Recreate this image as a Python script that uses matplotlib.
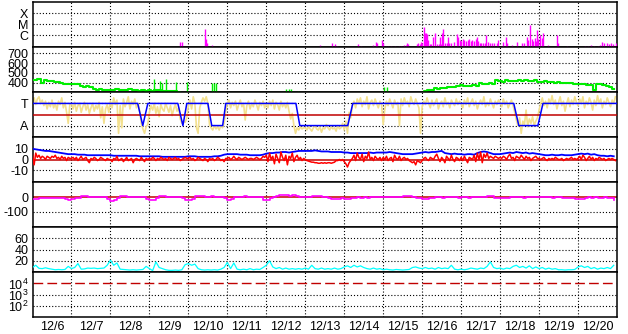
import matplotlib
matplotlib.use("Agg")
import matplotlib.pyplot as plt
from matplotlib.ticker import NullLocator
import numpy as np

plt.rcParams['font.family'] = ['Liberation Sans', 'DejaVu Sans']
plt.rcParams['mathtext.fontset'] = 'custom'
plt.rcParams['mathtext.rm'] = 'Liberation Sans'
plt.rcParams['mathtext.it'] = 'Liberation Sans'

day_labels = ['12/6', '12/7', '12/8', '12/9', '12/10', '12/11', '12/12', '12/13',
              '12/14', '12/15', '12/16', '12/17', '12/18', '12/19', '12/20']

# x-ray flux (hours after 12/6 00UT, W/m2)
xray_hour = [91.0, 91.8, 106.0, 106.6, 107.3, 110.4, 177.0, 184.4, 186.2, 187.4,
             200.4, 202.2, 209.6, 211.5, 212.1, 215.2, 215.8, 217.5, 219.0, 221.0,
             223.0, 226.0, 227.2, 228.7, 229.9, 230.6, 231.2, 236.7, 237.5, 238.6,
             239.2, 239.8, 241.1, 241.7, 242.4, 243.0, 243.6, 244.8, 245.6, 246.6,
             247.8, 249.0, 250.2, 250.9, 251.5, 252.2, 252.8, 254.0, 255.0, 255.8,
             256.8, 258.0, 259.5, 261.4, 262.0, 263.2, 264.0, 265.0, 266.0, 267.0,
             268.0, 269.0, 270.0, 271.0, 272.0, 273.0, 273.7, 274.5, 275.5, 276.5,
             277.5, 278.5, 279.3, 280.5, 281.7, 283.0, 284.5, 285.8, 286.6, 289.7,
             291.6, 292.2, 295.3, 298.4, 301.5, 303.0, 304.5, 305.0, 306.4, 307.6,
             308.4, 309.2, 310.0, 310.7, 311.4, 312.5, 313.7, 314.4, 317.5, 323.0,
             323.6, 329.2, 340.2, 342.0, 344.0, 346.0, 348.0, 349.5, 350.7, 352.0,
             353.8, 355.0, 356.3, 357.5, 359.4]
xray_flux = [2.5e-7, 2.2e-7, 3.5e-6, 4e-7, 2e-7, 1.2e-7, 1.2e-7, 2e-7, 1.5e-7, 1e-7,
             1.5e-7, 1e-7, 1.2e-7, 2.5e-7, 1.8e-7, 3.5e-7, 2e-7, 1e-7, 1e-7, 1e-7,
             1e-7, 1e-7, 1e-7, 1.2e-7, 1.2e-7, 1.8e-7, 1.5e-7, 1.4e-7, 1.8e-7, 1.4e-7,
             2.5e-7, 2e-7, 5e-6, 1.5e-6, 1.5e-6, 1.2e-6, 3.5e-7, 1.5e-7, 1.5e-7, 7e-7,
             1.4e-6, 1.6e-7, 1.6e-7, 7e-7, 1.6e-7, 1.6e-6, 3.3e-6, 2e-7, 2e-7, 6e-7,
             2e-7, 1.8e-7, 2.2e-7, 1.2e-6, 6e-7, 3.5e-7, 3e-7, 4e-7, 3.5e-7, 3e-7,
             3.5e-7, 4e-7, 3e-7, 3.5e-7, 3e-7, 4e-7, 7e-7, 3e-7, 1.8e-7, 1.8e-7,
             1.8e-7, 1.8e-7, 1e-6, 2.5e-7, 1.8e-7, 1.8e-7, 1.8e-7, 1.8e-7, 3.5e-7, 2.5e-7,
             6e-7, 2e-7, 1.2e-7, 2.5e-7, 1.8e-7, 1.8e-7, 7e-7, 3.5e-7, 8e-6, 4e-7,
             3e-7, 5e-7, 3e-7, 2.8e-6, 4e-7, 1e-6, 5e-7, 1.4e-6, 1.2e-7, 1e-6,
             1.8e-7, 1e-7, 1.1e-7, 1.1e-7, 1.2e-7, 1.1e-7, 1.1e-7, 1.2e-7, 2.5e-7, 1.8e-7,
             1.8e-7, 1.6e-7, 1.8e-7, 1.6e-7, 2e-7]

# solar wind speed, 2-hourly (km/s); values under 305 run off the bottom
wind_speed = [
    425, 430, 438, 395, 425, 420, 415, 410, 412, 395, 388, 387,
    388, 385, 385, 362, 360, 366, 352, 340, 330, 335, 325, 330,
    330, 328, 340, 325, 330, 322, 335, 328, 325, 320, 326, 318,
    322, 318, 325, 330, 315, 320, 318, 312, 320, 300, 290, 290,
    290, 290, 290, 290, 290, 290, 290, 290, 290, 290, 290, 290,
    290, 290, 290, 290, 290, 290, 290, 290, 290, 290, 290, 290,
    290, 290, 290, 290, 290, 290, 290, 290, 290, 290, 290, 290,
    290, 290, 290, 290, 290, 290, 290, 290, 290, 290, 290, 290,
    290, 290, 290, 290, 290, 290, 290, 290, 290, 290, 290, 290,
    290, 290, 290, 290, 290, 290, 290, 290, 290, 290, 290, 290,
    290, 315, 327, 325, 344, 340, 346, 350, 352, 355, 360, 366,
    377, 366, 368, 370, 372, 368, 394, 390, 385, 392, 388, 427,
    420, 412, 425, 418, 422, 415, 428, 420, 424, 418, 422, 426,
    412, 408, 415, 405, 410, 400, 403, 398, 402, 395, 392, 388,
    390, 385, 382, 380, 378, 327, 385, 384, 380, 366, 352, 338]

# isolated speed readings during the off-scale interval
wind_spike_day = [3.11, 3.28, 3.32, 3.42, 3.67, 3.97, 4.61, 4.65, 4.71,
                  6.51, 6.58, 6.63, 6.81, 9.02, 9.10]
wind_spike_kms = [438, 420, 394, 435, 404, 404, 394, 394, 394,
                  334, 334, 334, 320, 354, 354]

# IMF sector (T = +1, A = -1)
sector_day = [0, 2.70, 2.83, 2.96, 3.73, 3.86, 3.96, 4.50, 4.60, 4.88, 4.96,
              6.76, 6.86, 8.09, 8.22, 12.35, 12.48, 12.97, 13.10, 15]
sector = [1, 1, -1, 1, 1, -1, 1, 1, -1, -1, 1, 1, -1, -1, 1, 1, -1, -1, 1, 1]

# IMF angle, hourly, in sector units
imf_angle = [
    1.2, 1.5, 0.9, 1.4, 1.6, 1.0, 1.3, 0.8, 1.2, 0.5, 1.1, 0.7, 1.3, 0.6, 1.0, 0.4, 1.2, 0.9, 1.5, 0.6, 1.1, 0.2, -0.8, 0.9,
    1.0, 0.5, 1.1, 0.3, 0.8, 1.0, 0.2, 0.7, 1.1, 0.4, 0.9, 0.1, 0.6, 1.0, 0.3, 0.8, 0.5, 1.1, -0.3, 0.7, -0.8, 0.5, 0.9, 0.2,
    1.2, 0.6, 1.5, 0.9, 1.3, -1.7, 0.8, -1.2, 1.4, 0.7, 1.1, 1.6, 0.5, 1.2, 0.9, 1.4, 0.6, 1.0, 0.3, -0.8, -1.3, -1.7, -1.1, -0.9,
    0.2, 0.8, 0.4, 1.0, 0.1, 0.7, -0.2, 0.9, 0.5, 0.3, 1.0, 0.6, 0.2, 0.8, -0.1, 0.5, 0.9, 0.3, 0.6, -0.4, -0.8, -0.6, -0.7, -0.3,
    0.8, 1.3, 0.5, 1.6, 1.0, -1.2, -1.7, 0.6, 1.1, 1.5, 1.2, 1.6, 1.0, -0.9, -1.2, -1.4, -1.0, -1.3, -1.1, -1.4, -1.0, -1.2, -0.8, 0.3,
    1.0, 1.3, 0.6, 1.1, 0.8, 1.2, 0.4, 0.9, 1.3, 0.7, 1.0, -0.5, 0.8, 1.2, 0.5, 1.0, 0.7, 1.3, 0.9, 0.4, 1.1, 0.8, 1.2, 0.6,
    1.0, 0.6, 1.2, 0.8, 1.3, 0.5, 1.1, 0.9, 0.4, 1.2, 0.7, 1.0, 0.6, 1.1, 0.3, -0.4, 0.1, -1.0, -1.7, -1.2, -1.4, -1.1, -1.3, -1.2,
    -1.2, -1.4, -1.1, -1.3, -1.5, -1.2, -1.0, -1.3, -1.4, -1.1, -1.6, -1.2, -1.3, -0.9, -1.2, -1.4, -1.1, -1.3, -1.2, -1.5, -1.0, -1.3, -1.2, -0.8,
    -1.4, -0.6, -1.7, 0.2, -0.3, 0.8, 1.2, 0.6, 1.4, 1.0, 1.5, 0.7, 1.2, 0.9, 1.6, 0.5, 1.1, 1.3, 0.8, 1.4, 1.0, 0.6, 1.2, 0.9,
    -0.9, 0.5, 1.2, 0.8, 1.4, 1.0, 0.6, 1.3, 0.9, 1.1, -1.0, 1.4, 0.8, 1.5, 1.0, 1.2, 0.7, 1.6, 1.1, 0.9, 1.4, 1.0, 0.6, -1.7,
    0.7, 1.2, 0.9, 1.5, 1.0, 0.6, 1.3, 0.8, 1.1, 1.4, 0.5, 1.0, 1.2, 0.7, 1.5, 0.9, 1.1, 0.6, 1.3, 1.0, 0.8, 1.4, 0.9, 1.2,
    1.0, 0.6, 1.3, 0.9, 1.5, 0.7, 1.1, 1.4, 0.8, 1.2, 0.5, 1.0, 1.3, 0.9, 1.6, 0.7, 1.1, 0.8, 1.4, 1.0, 0.6, 1.2, 0.9, 1.3,
    1.1, 0.7, 1.4, 0.9, 1.2, 0.6, 1.0, 1.3, 0.8, 0.2, -0.5, -1.0, -0.3, -1.7, -0.6, -0.9, 0.4, -1.1, -0.4, -0.8, -0.2, -1.0, -0.6, -0.3,
    0.4, 1.0, 1.5, 0.8, 1.2, 0.6, 1.4, 1.0, 1.7, 0.9, 1.3, 0.5, 1.1, 1.6, 0.8, 1.2, 0.3, 1.0, 1.5, 0.7, 1.3, 0.9, 1.6, 1.1,
    0.8, 1.4, 1.0, 1.6, 0.6, 1.2, 0.9, 1.5, 1.1, 0.4, 1.3, 0.8, 1.7, 1.0, 1.4, 0.6, 1.2, 0.9, 1.5, 1.1, 0.7, 1.3, 1.0, 1.6]

# total field Bt, 2-hourly (nT)
bt = [
    10, 9.5, 9, 8.5, 8, 8, 7.5, 7, 6.5, 6, 5.5, 5,
    5, 5, 4.5, 4.5, 4.5, 4, 4, 4, 4, 4, 4, 4,
    4, 3.5, 3.5, 3.5, 3.5, 3.5, 3.5, 3.5, 3.5, 3, 3, 3,
    3, 3, 3, 3, 2.5, 2.5, 2.5, 2.5, 2.5, 2.5, 2.5, 2.5,
    3, 3, 3, 2.5, 2.5, 2.5, 2.5, 2.5, 3, 3, 3.5, 4.5,
    5, 5, 5, 5, 4.5, 4.5, 4.5, 4, 4, 4, 4, 4.5,
    5.5, 6, 6, 6.5, 6.5, 7, 7, 6.5, 7, 7.5, 8, 8,
    8, 8, 8, 8.5, 8, 7.5, 7.5, 7.5, 7, 7, 7, 7,
    6.5, 6.5, 6, 6, 6, 6, 6, 6, 6.5, 6, 6.5, 6.5,
    6.5, 6.5, 7, 6.5, 6, 5.5, 5, 5, 5, 5, 5.5, 6,
    6.5, 7, 6.5, 7, 7, 7.5, 8, 6, 5.5, 5, 5.5, 5,
    5, 4.5, 5, 5, 4.5, 6, 7, 7.5, 7, 6, 5, 5,
    5, 5.5, 6, 6.5, 6, 7, 6.5, 6, 6.5, 5.5, 6, 5.5,
    5, 4.5, 4, 4, 4.5, 4, 4, 4.5, 4, 4, 4, 4.5,
    5, 5.5, 5, 5.5, 4.5, 5, 4, 3.5, 3.5, 3, 3.5, 3]

# Bz, hourly (nT)
bz = [
    5, -5, 6, 2, 4, 1, 3, 2, 0, 3, 2, 1, 3, 2, 4, 1, 2, 0, 3, 1, 2, -1, 2, 1,
    1, 2, 0, 2, -1, 1, 3, 0, 1, 2, -1, -3, 1, 0, 2, 1, -1, 0, 2, 1, 0, -1, 1, 0,
    0, -2, 1, 0, 3, -1, 0, 1, -2, 0, 2, -1, 0, 1, -3, 0, 1, 0, -1, 2, 0, -2, 1, 0,
    1, 0, 2, 1, -1, 1, 0, 2, 1, 0, 1, -1, 2, 1, 0, 1, 2, 0, 1, -1, 0, 1, 2, 1,
    1, 2, 0, 1, -1, 0, 2, 1, 0, -1, 1, 0, -2, 1, 0, 1, -1, 0, 2, 1, -1, 0, -2, 1,
    1, 2, 0, 1, 3, 1, 0, 2, 1, 0, 1, 2, 1, 0, 1, 1, 0, 1, 2, 1, 0, 1, 3, 2,
    4, -2, 6, 0, 3, -4, 5, 1, -3, 7, 2, -1, 4, -5, 3, 1, 6, -2, 2, 4, 0, 2, -1, 1,
    0, -1, -1.5, -2, -2.5, -2.5, -3, -3, -3.5, -3.5, -3, -3.5, -3, -3.5, -3, -3, -3.5, -3, -2.5, -1, -1, 0, -1, 0,
    -2, -4, -7, -3, -1, 1, 4, -1, 6, 2, 0, 5, -2, 3, 1, 7, 0, 2, -1, 3, 1, 0, 2, -1,
    2, 0, 3, -1, 1, 2, -2, 4, 1, 0, 3, -1, 1, 2, 0, 1, -1, -2, -3, -2, -5, -1, -2, -3,
    -1, 1, 2, 0, -1, 2, 1, 0, 3, 5, 1, -2, 2, 0, -3, 3, 1, -1, 4, 0, -2, 2, 1, -1,
    2, -1, 3, 0, -3, 2, 1, 0, 4, -2, 6, 0, 7, -3, 5, 2, 6, 1, 3, 2, 1, 3, 2, 1,
    2, 1, 3, 2, 0, 3, 5, 1, 2, -1, 3, 2, 1, 4, 2, 0, 3, 1, 2, -1, 1, 2, 3, 1,
    1, 0, 1, 2, 0, -1, 1, 0, 1, 0, 2, 1, 0, 0, 1, -1, 0, 1, 0, 1, 2, 0, 1, 0,
    1, 3, 0, 4, 2, -1, 1, 3, 0, 2, -1, 1, 0, 2, 1, 0, 1, -1, 0, 1, 0, 1, 0, -1]

# geomagnetic index, 2-hourly (nT)
dst = [
    -10, -10, -8, -7, -7, -7, -7, -7, -7, -8, -12, -22,
    -12, -6, -6, 6, 8, 3, 2, 2, 0, 1, 0, -10,
    -28, -20, -6, 4, 5, 2, 0, 2, 1, 0, 0, -15,
    -20, -18, -8, 7, 6, 1, 0, 0, 0, 0, -5, -20,
    -22, -10, 6, 7, 6, 3, 2, 4, 3, 2, 0, -8,
    -20, -15, 3, 3, 3, 4, 3, 3, 2, 3, 0, -18,
    -20, -5, 0, 10, 12, 14, 12, 10, 12, 8, 2, 0,
    0, 3, 10, 10, 5, 0, -3, -8, -10, -12, -10, -8,
    -10, -12, -8, -6, -3, -4, -3, -5, -3, -2, -3, -2,
    0, 2, 3, 2, 3, 2, 5, 8, 8, -3, -5, -8,
    -10, -12, -9, -4, -3, -2, -4, -3, -2, -3, -2, -4,
    -3, -2, -4, -3, -2, -3, -2, 0, 10, 8, -6, -7,
    -7, -6, -7, -2, 0, -3, -2, -4, -1, -3, -2, -2,
    -2, -3, -2, -3, -4, -3, -2, -5, -6, -7, -7, -10,
    -15, -12, -5, -3, -4, -3, -5, -4, -3, -4, -8, -18]

# proton density, 2-hourly (p/cc)
density = [
    8, 12, 6.5, 6, 7.5, 6, 5, 4, 4.5, 4, 4.5, 10,
    6, 8, 15, 5, 5.5, 7, 6.5, 7, 6, 6.5, 7, 12,
    21, 12, 16, 5, 4.5, 4, 3.5, 4, 3.5, 4, 4.5, 10,
    6, 2.5, 18, 8, 6, 4, 3, 3, 3.5, 3, 4, 13,
    15, 12, 14, 6, 4, 3.5, 4, 3.5, 4, 3.5, 5, 8,
    17, 6, 16, 5, 4, 5, 4, 6, 4, 5, 4.5, 8,
    12, 20, 9, 6, 8, 5, 7, 5, 6, 5, 6, 5,
    7, 5, 12, 6, 5, 7, 5, 6, 5, 7, 5, 6,
    9, 11, 8, 12, 9, 11, 8, 6, 5, 7, 5, 6,
    4, 5, 4, 3.5, 4.5, 4, 3.5, 4, 4.5, 8, 9, 7,
    6, 8, 6, 7, 5, 8, 6, 7, 6, 12, 5, 4,
    5, 4, 5, 7, 6, 5, 7, 6, 10, 18, 8, 6,
    7, 5, 7, 6, 10, 12, 8, 10, 7, 11, 6, 9,
    6, 8, 5, 7, 5, 6, 4, 4, 3.5, 4, 4, 4.5,
    9, 11, 8, 10, 6, 8, 5, 7, 6, 8, 6, 12]

t_1h = np.arange(len(bz)) / 24.0
t_2h = np.arange(len(bt)) * 2 / 24.0

W, H = 628, 334
fig = plt.figure(figsize=(W / 100, H / 100), dpi=100)
tops = [2, 47, 92, 137, 182, 227, 272]
x0, x1 = 32.5, 617
axes = []
for top in tops:
    ax = fig.add_axes([x0 / W, 1 - (top + 45) / H, (x1 - x0) / W, 45 / H])
    ax.set_xlim(0, 15)
    for s in ax.spines.values():
        s.set_linewidth(1.1)
        s.set_color('black')
    ax.tick_params(length=0, pad=3, labelsize=9)
    ax.set_xticks([])
    axes.append(ax)

dot = dict(color='black', lw=0.8, ls=(0, (1, 1.8)), zorder=1)
darkred = '#c00000'

def hgrid(ax, levels):
    for v in levels:
        ax.axhline(v, **dot)

# x-ray
ax = axes[0]
ax.set_yscale('log')
ax.set_ylim(10 ** -7.09, 1e-3)
ax.yaxis.set_minor_locator(NullLocator())
ax.set_yticks([1e-6, 1e-5, 1e-4])
ax.set_yticklabels(['C', 'M', 'X'])
hgrid(ax, [1e-6, 1e-5, 1e-4])
ax.vlines(np.array(xray_hour) / 24.0, 1e-9, xray_flux, color='#ff00ff', lw=1.0, zorder=3)

# wind speed
ax = axes[1]
ax.set_ylim(305, 765)
ax.set_yticks([400, 500, 600, 700])
hgrid(ax, [400, 500, 600, 700])
ax.plot(t_2h, wind_speed, color='#00ee00', lw=1.5, drawstyle='steps-mid', zorder=3)
ax.vlines(wind_spike_day, 290, wind_spike_kms, color='#00ee00', lw=1.0, zorder=3)

# sector
ax = axes[2]
ax.set_ylim(-2.03, 2.03)
ax.set_yticks([-1, 1])
ax.set_yticklabels(['A', 'T'])
hgrid(ax, [-1, 1])
ax.plot(t_1h, imf_angle, color='#f3e08e', lw=1.2, zorder=2)
ax.axhline(0, color=darkred, lw=1.1, zorder=3)
ax.plot(sector_day, sector, color='#0000ff', lw=1.1, zorder=4)

# Bt / Bz
ax = axes[3]
ax.set_ylim(-21, 21)
ax.set_yticks([-10, 0, 10])
ax.set_yticklabels(['-10', '0', '10'])
hgrid(ax, [-10, 10])
ax.axhline(0, color=darkred, lw=1.1, zorder=2)
ax.plot(t_2h, bt, color='#0000ff', lw=1.3, zorder=3)
ax.plot(t_1h, bz, color='#ff0000', lw=1.1, zorder=4)

# index
ax = axes[4]
ax.set_ylim(-200, 100)
ax.set_yticks([-100, 0])
ax.set_yticklabels(['-100', '0'])
hgrid(ax, [-100])
ax.axhline(0, color=darkred, lw=1.1, zorder=2)
ax.plot(t_2h, dst, color='#ff00ff', lw=1.2, drawstyle='steps-post', zorder=3)

# density
ax = axes[5]
ax.set_ylim(0, 80)
ax.set_yticks([20, 40, 60])
hgrid(ax, [20, 40, 60])
ax.plot(t_2h, density, color='#00ffff', lw=0.9, zorder=3)

# protons
ax = axes[6]
ax.set_yscale('log')
ax.set_ylim(10 ** 0.97, 10 ** 5.03)
ax.yaxis.set_minor_locator(NullLocator())
ax.set_yticks([1e2, 1e3, 1e4])
ax.set_yticklabels([r'$10^2$', r'$10^3$', r'$10^4$'])
hgrid(ax, [1e2, 1e3])
ax.axhline(1e4, color=darkred, lw=1.0, ls=(0, (7, 3)), zorder=2)
ax.set_xticks(np.arange(15) + 0.5)
ax.set_xticklabels(day_labels)

for ax in axes:
    for d in range(1, 15):
        ax.axvline(d, **dot)

fig.savefig('out.png', dpi=100)
